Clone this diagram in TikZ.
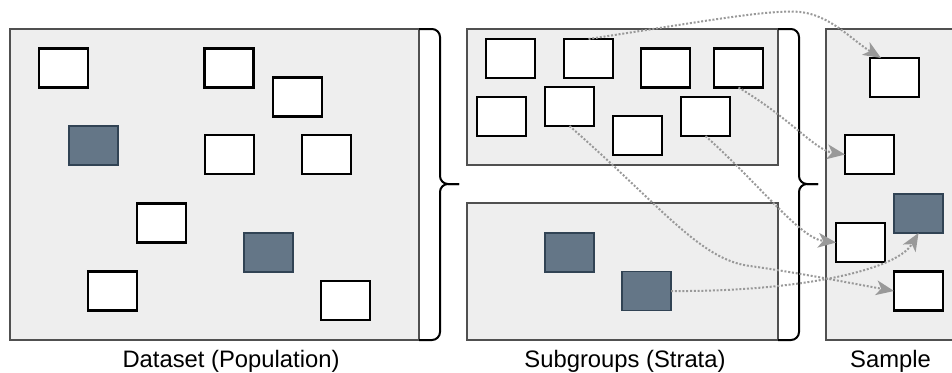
\documentclass[tikz,border=0pt]{standalone}
\usepackage{fontspec}
\setmainfont{Liberation Sans}
\usetikzlibrary{arrows.meta}
\definecolor{panelfill}{HTML}{EEEEEE}
\definecolor{panelline}{HTML}{505050}
\definecolor{darkfill}{HTML}{647687}
\definecolor{darkline}{HTML}{314354}
\definecolor{linkgray}{HTML}{999999}
\tikzset{
  panel/.style={fill=panelfill, draw=panelline, line width=2pt},
  wbox/.style={draw=black, fill=white, line width=2.2pt, minimum width=49pt, minimum height=39pt, inner sep=0pt, outer sep=0pt},
  dbox/.style={draw=darkline, fill=darkfill, line width=1.8pt, minimum width=49pt, minimum height=39pt, inner sep=0pt, outer sep=0pt},
  bracket/.style={draw=black, line width=2pt, rounded corners=8pt},
  link/.style={draw=linkgray, line width=2pt, dash pattern=on 2pt off 1.8pt,
    -{Stealth[length=18pt, width=15pt, inset=5pt, fill=linkgray, line width=0pt, sep=0pt]}},
  caption/.style={font=\fontsize{23.8}{28}\selectfont, anchor=base, inner sep=0pt}
}
\begin{document}
\begin{tikzpicture}[x=1pt, y=-1pt]
\useasboundingbox (0,0) rectangle (952,372);

% panels
\path[panel] (10,29) rectangle (419,340);
\path[panel] (467,29) rectangle (778,165);
\path[panel] (467,203) rectangle (778,340);
\path[panel] (826,29) rectangle (962,340);

% braces
\draw[bracket] (419,29) -- (440,29) -- (440,184) -- (459,184);
\draw[bracket] (419,340) -- (440,340) -- (440,184) -- (459,184);
\draw[bracket] (778,29) -- (799,29) -- (799,184) -- (818,184);
\draw[bracket] (778,340) -- (799,340) -- (799,184) -- (818,184);

% population
\node[wbox] (d1) at (63.5,68) {};
\node[wbox] (d2) at (229,68) {};
\node[wbox] (d3) at (297.5,97) {};
\node[dbox] (dk1) at (93.5,145.5) {};
\node[wbox] (d4) at (229.5,154.5) {};
\node[wbox] (d5) at (326.5,154.5) {};
\node[wbox] (d6) at (161.5,223) {};
\node[dbox] (dk2) at (268.5,252.5) {};
\node[wbox] (d7) at (112.5,291) {};
\node[wbox] (d8) at (345.5,300.5) {};

% strata
\node[wbox] (s1) at (510.5,58.5) {};
\node[wbox] (s2) at (588.5,58.5) {};
\node[wbox] (s3) at (665.5,68) {};
\node[wbox] (s4) at (738.5,68) {};
\node[wbox] (s5) at (501.5,116.5) {};
\node[wbox] (s6) at (569.5,106.5) {};
\node[wbox] (s7) at (637.5,135.5) {};
\node[wbox] (s8) at (705.5,116.5) {};
\node[dbox] (sk1) at (569.5,252.5) {};
\node[dbox] (sk2) at (646.5,291) {};

% sample
\node[wbox] (p1) at (894.5,77.5) {};
\node[wbox] (p2) at (869.5,154.5) {};
\node[dbox] (pk) at (918.5,213.5) {};
\node[wbox] (p3) at (860.5,242.5) {};
\node[wbox] (p4) at (918.5,291) {};

% selections
\draw[link] (s2.north) .. controls (700,22) and (770,9) .. (800,12)
  .. controls (830,15) and (852,40) .. ([xshift=11pt]p1.north west);
\draw[link] (s4.south) .. controls (790,118) and (815,150) .. (p2.west);
\draw[link] (s8.south) .. controls (760,185) and (800,238) .. (p3.west);
\draw[link] (s6.south) .. controls (660,205) and (700,260) .. (750,266)
  .. controls (800,273) and (850,283) .. (p4.west);
\draw[link] (sk2.east) .. controls (790,292) and (895,272) .. (pk.south);

% captions
\node[caption] (c1) at (231,367) {Dataset (Population)};
\node[caption] (c2) at (625,367) {Subgroups (Strata)};
\node[caption] (c3) at (890.5,367) {Sample};
\end{tikzpicture}
\end{document}
